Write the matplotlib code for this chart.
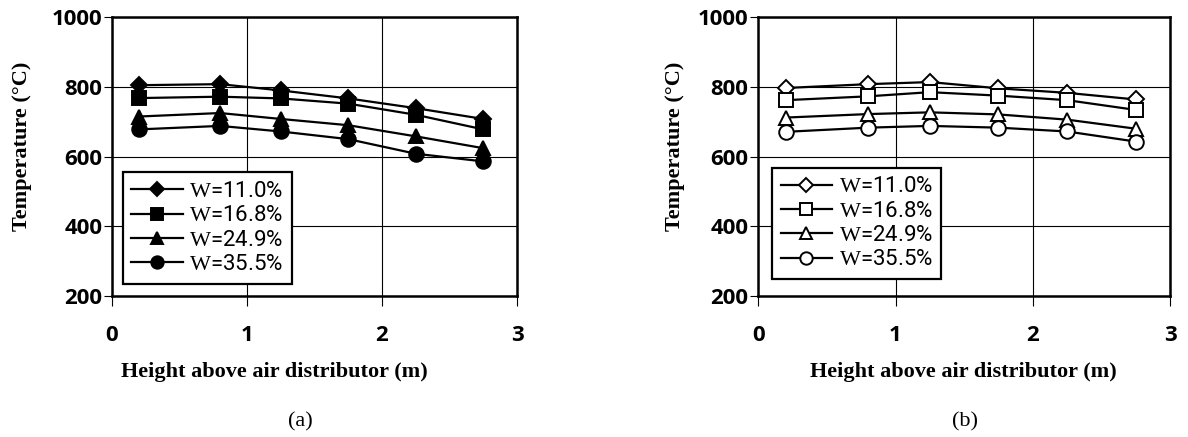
import numpy as np
import matplotlib.pyplot as plt

plt.rcParams["mathtext.fontset"] = "custom"
plt.rcParams["mathtext.rm"] = "Liberation Serif"

height = [0.2, 0.8, 1.25, 1.75, 2.25, 2.75]
labels = [r"$\mathrm{W}$=11.0%", r"$\mathrm{W}$=16.8%",
          r"$\mathrm{W}$=24.9%", r"$\mathrm{W}$=35.5%"]
markers = ["D", "s", "^", "o"]
msizes = [8, 9.5, 10, 10.5]

# panel (a)
temp_a = [
    [805, 808, 790, 767, 739, 708],
    [768, 772, 767, 752, 720, 678],
    [715, 725, 708, 690, 658, 624],
    [678, 688, 672, 650, 608, 586],
]
# panel (b)
temp_b = [
    [797, 808, 814, 796, 783, 764],
    [762, 773, 785, 775, 762, 734],
    [712, 722, 727, 721, 706, 680],
    [671, 683, 688, 683, 672, 643],
]

tick_font = dict(family="Open Sans", weight="bold", size=16)
label_font = dict(family="Liberation Serif", weight="bold", size=16)

fig = plt.figure(figsize=(11.88, 4.37), dpi=100)


def panel(rect, data, filled, legend_anchor, ylab_x, xlab_x, caption_x, caption):
    ax = fig.add_axes(rect)
    for vals, lab, m, ms in zip(data, labels, markers, msizes):
        ax.plot(height, vals, color="black", lw=1.6, marker=m, ms=ms,
                mfc="black" if filled else "white", mec="black", mew=1.4,
                label=lab)
    ax.set_xlim(0, 3)
    ax.set_ylim(200, 1000)
    ax.set_xticks([0, 1, 2, 3])
    ax.set_yticks([200, 400, 600, 800, 1000])
    ax.grid(True, color="black", lw=0.8)
    for s in ax.spines.values():
        s.set_linewidth(1.8)
    ax.tick_params(axis="x", direction="out", length=7, width=0.8, pad=14)
    ax.tick_params(axis="y", direction="out", length=6, width=0.8, pad=1)
    for t in ax.get_xticklabels() + ax.get_yticklabels():
        t.set_fontfamily(tick_font["family"])
        t.set_fontweight(tick_font["weight"])
        t.set_fontsize(tick_font["size"])
    ax.set_xlabel("Height above air distributor (m)", va="center", **label_font)
    ax.set_ylabel("Temperature (°C)", va="center", **label_font)
    ax.xaxis.set_label_coords(xlab_x, -0.274)
    ax.yaxis.set_label_coords(ylab_x, 0.535)
    leg = ax.legend(loc="lower left", bbox_to_anchor=legend_anchor,
                    prop=dict(family="Roboto", size=16),
                    handlelength=2.3, handletextpad=0.3, labelspacing=0.15,
                    borderpad=0.4, borderaxespad=0, markerscale=0.85,
                    fancybox=False, framealpha=1, edgecolor="black")
    leg.get_frame().set_linewidth(1.6)
    fig.text(caption_x / 1188, 1 - 422 / 437, caption, ha="center",
             va="center", family="Liberation Serif", size=16)
    return ax


panel([0.0943, 0.3233, 0.3409, 0.637], temp_a, True, (0.026, 0.042),
      -0.222, 0.40, 300, "(a)")
panel([0.6383, 0.3233, 0.3466, 0.637], temp_b, False, (0.033, 0.059),
      -0.202, 0.497, 965, "(b)")

fig.savefig("out.png", dpi=100)
